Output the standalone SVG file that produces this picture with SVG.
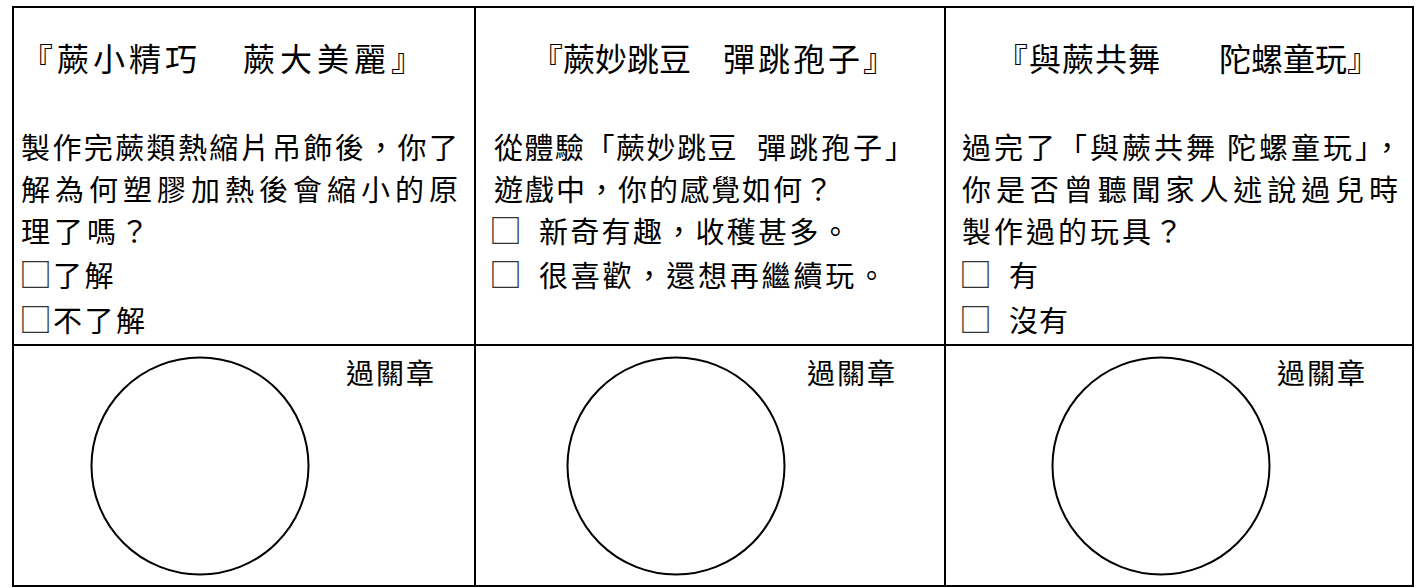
<svg xmlns="http://www.w3.org/2000/svg" width="1422" height="588" viewBox="0 0 1422 588">
<style>
.grid{stroke:#000;stroke-width:2;fill:none}
.ring{stroke:#000;stroke-width:2;fill:none}
.t{font-family:"Liberation Serif","Noto Sans CJK TC",serif;fill:#000;font-size:32px}
.b{font-family:"Liberation Serif","Noto Sans CJK TC",serif;fill:#000;font-size:29px}
.box{font-family:"Noto Sans CJK TC",sans-serif;font-size:33px;fill:#333}
.s{font-family:"Liberation Serif","Noto Sans CJK TC",serif;fill:#000;font-size:28px;letter-spacing:2px}
</style>
<rect width="1422" height="588" fill="#fff"/>
<g id="table">
<rect class="grid" x="13" y="7" width="1400" height="579"/>
<line class="grid" x1="475" y1="7" x2="475" y2="586"/>
<line class="grid" x1="945" y1="7" x2="945" y2="586"/>
<line class="grid" x1="13" y1="345" x2="1413" y2="345"/>
</g>
<g id="cell1">
<text class="t" y="71"><tspan x="21" letter-spacing="4">『蕨小精巧　</tspan><tspan x="243" letter-spacing="5">蕨大美麗』</tspan></text>
<text class="b" x="21" y="159" textLength="437" lengthAdjust="spacing">製作完蕨類熱縮片吊飾後，你了</text>
<text class="b" x="21" y="201" textLength="437" lengthAdjust="spacing">解為何塑膠加熱後會縮小的原</text>
<text class="b" x="21" y="243" letter-spacing="4">理了嗎？</text>
<text class="b" y="287"><tspan class="box" x="19">□</tspan><tspan x="53" letter-spacing="2.5">了解</tspan></text>
<text class="b" y="332"><tspan class="box" x="19">□</tspan><tspan x="53" letter-spacing="2.5">不了解</tspan></text>
</g>
<g id="cell2">
<text class="t" y="71"><tspan x="531">『蕨妙跳豆　</tspan><tspan x="723" letter-spacing="3">彈跳孢子』</tspan></text>
<text class="b" y="159"><tspan x="494" letter-spacing="1.5">從體驗「蕨妙跳豆 </tspan><tspan x="757" letter-spacing="3">彈跳孢子」</tspan></text>
<text class="b" x="494" y="201" letter-spacing="2">遊戲中，你的感覺如何？</text>
<text class="b" y="243"><tspan class="box" x="489">□ </tspan><tspan x="539" letter-spacing="2.3">新奇有趣，收穫甚多。</tspan></text>
<text class="b" y="287"><tspan class="box" x="489">□ </tspan><tspan x="539" letter-spacing="2.8">很喜歡，還想再繼續玩。</tspan></text>
</g>
<g id="cell3">
<text class="t" y="71"><tspan x="996" letter-spacing="1">『與蕨共舞　</tspan><tspan x="1219">陀螺童玩』</tspan></text>
<text class="b" y="159"><tspan x="962" letter-spacing="3">過完了「與蕨共舞 </tspan><tspan x="1227" letter-spacing="3">陀螺童玩」，</tspan></text>
<text class="b" x="962" y="201" textLength="436" lengthAdjust="spacing">你是否曾聽聞家人述說過兒時</text>
<text class="b" x="962" y="243" letter-spacing="3">製作過的玩具？</text>
<text class="b" y="287"><tspan class="box" x="959">□ </tspan><tspan x="1009">有</tspan></text>
<text class="b" y="332"><tspan class="box" x="959">□ </tspan><tspan x="1009" letter-spacing="1">沒有</tspan></text>
</g>
<g id="stamp1">
<circle class="ring" cx="200" cy="466" r="108.5"/>
<text class="s" x="346" y="384">過關章</text>
</g>
<g id="stamp2">
<circle class="ring" cx="676" cy="466" r="108.5"/>
<text class="s" x="807" y="384">過關章</text>
</g>
<g id="stamp3">
<circle class="ring" cx="1161" cy="466" r="108.5"/>
<text class="s" x="1277" y="384">過關章</text>
</g>
</svg>
